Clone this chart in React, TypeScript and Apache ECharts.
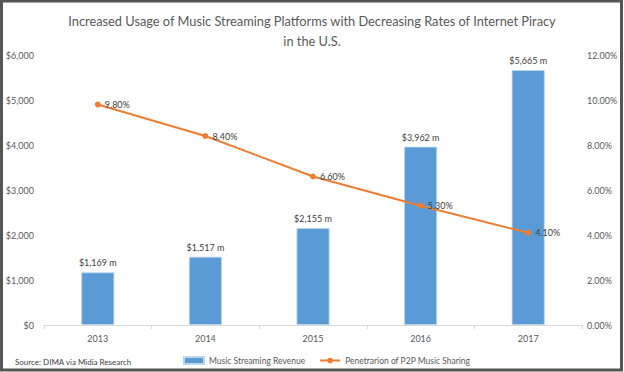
import React, { useEffect, useRef } from "react";
import * as echarts from "echarts";

const years = ["2013", "2014", "2015", "2016", "2017"];
const revenue = [1169, 1517, 2155, 3962, 5665];
const p2pShare = [9.8, 8.4, 6.6, 5.3, 4.1];
const titleText = "Increased Usage of Music Streaming Platforms with Decreasing Rates of Internet Piracy\nin the U.S.";
const sourceText = "Source: DIMA via Midia Research";

const FONT = "Lato, 'Open Sans', sans-serif";

export default function App() {
  const ref = useRef<HTMLDivElement>(null);
  useEffect(() => {
    if (!ref.current) return;
    const chart = echarts.init(ref.current, null, { renderer: "svg" });
    chart.setOption({
      animation: false,
      backgroundColor: "#ffffff",
      textStyle: { fontFamily: FONT },
      title: {
        text: titleText,
        left: "center",
        top: 6,
        textStyle: { fontFamily: FONT, fontSize: 12.8, fontWeight: "normal", color: "#595959", lineHeight: 20 },
      },
      legend: {
        bottom: 2,
        left: 178,
        itemGap: 14,
        itemWidth: 20,
        itemHeight: 7,
        textStyle: { fontFamily: FONT, fontSize: 8.5, color: "#595959" },
        data: [
          { name: "Music Streaming Revenue", icon: "rect" },
          { name: "Penetrarion of P2P Music Sharing" },
        ],
      },
      graphic: [
        {
          type: "text",
          left: 15,
          top: 358,
          style: { text: sourceText, fontFamily: FONT, fontSize: 8, fill: "#404040" },
        },
        {
          type: "rect",
          shape: { x: 1.5, y: 1, width: 620, height: 369 },
          style: { fill: "none", stroke: "#555555", lineWidth: 3 },
          silent: true,
        },
      ],
      grid: { left: 44, right: 42, top: 55, bottom: 47 },
      xAxis: {
        type: "category",
        data: years,
        axisLine: { lineStyle: { color: "#d9d9d9" } },
        axisTick: { show: true, lineStyle: { color: "#d9d9d9" }, length: 4 },
        axisLabel: { fontFamily: FONT, fontSize: 9, color: "#595959", margin: 9 },
      },
      yAxis: [
        {
          type: "value",
          min: 0,
          max: 6000,
          interval: 1000,
          splitLine: { show: false },
          axisLine: { show: false },
          axisTick: { show: false },
          axisLabel: {
            fontFamily: FONT,
            fontSize: 9,
            color: "#595959",
            margin: 10,
            formatter: (v: number) => "$" + v.toLocaleString("en-US"),
          },
        },
        {
          type: "value",
          min: 0,
          max: 12,
          interval: 2,
          splitLine: { show: false },
          axisLine: { show: false },
          axisTick: { show: false },
          axisLabel: {
            fontFamily: FONT,
            fontSize: 9,
            color: "#595959",
            margin: 5,
            formatter: (v: number) => v.toFixed(2) + "%",
          },
        },
      ],
      series: [
        {
          name: "Music Streaming Revenue",
          type: "bar",
          data: revenue,
          barWidth: 33,
          itemStyle: { color: "#5b9bd5", borderColor: "#bcd6ee", borderWidth: 0.8 },
          label: {
            show: true,
            position: "top",
            distance: 5,
            fontFamily: FONT,
            fontSize: 9,
            color: "#404040",
            formatter: (p: any) => "$" + Number(p.value).toLocaleString("en-US") + " m",
          },
        },
        {
          name: "Penetrarion of P2P Music Sharing",
          type: "line",
          yAxisIndex: 1,
          data: p2pShare,
          symbol: "circle",
          symbolSize: 6,
          lineStyle: { color: "#ed7d31", width: 2 },
          itemStyle: { color: "#ed7d31" },
          label: {
            show: true,
            position: "right",
            distance: 4,
            fontFamily: FONT,
            fontSize: 9,
            color: "#404040",
            formatter: (p: any) => Number(p.value).toFixed(2) + "%",
          },
        },
      ],
    });
    return () => chart.dispose();
  }, []);
  return (
    <div
      ref={ref}
      style={{ position: "fixed", left: 0, top: 0, width: 624, height: 372 }}
    />
  );
}
